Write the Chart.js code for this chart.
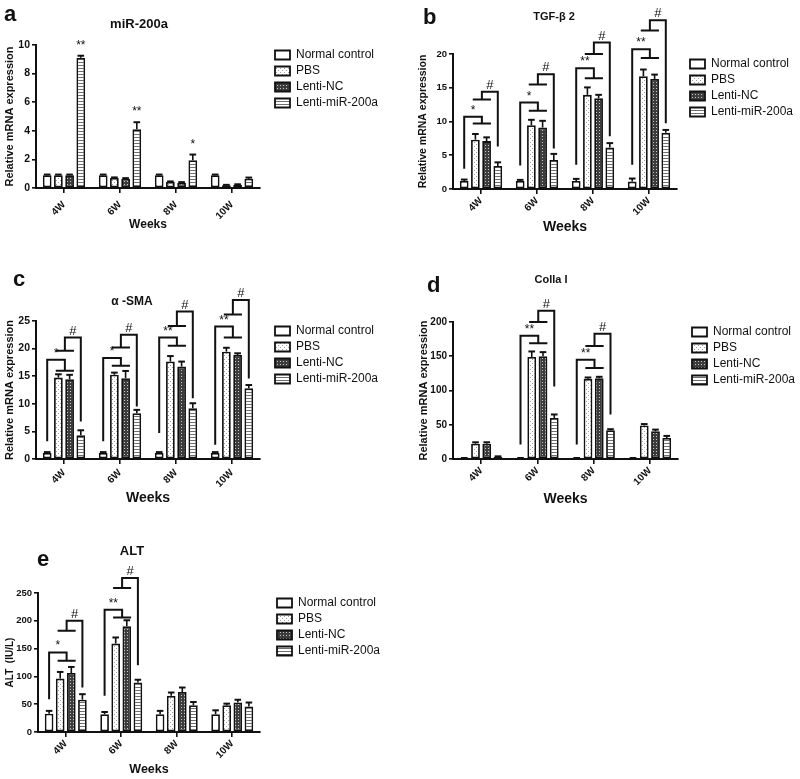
<!DOCTYPE html>
<html>
<head>
<meta charset="utf-8">
<script src="https://cdn.jsdelivr.net/npm/chart.js@4.4.1/dist/chart.umd.min.js"></script>
<style>
  body { margin: 0; background: #fff; overflow: hidden; }
  #fig { position: relative; width: 800px; height: 779px; font-family: "Liberation Sans", Arial, sans-serif; color: #111; }
  canvas { position: absolute; }
  .txt { position: absolute; font-weight: bold; line-height: 1; white-space: nowrap; }
  .mid { transform: translateX(-50%); }
</style>
</head>
<body>
<div id="fig">
  <canvas id="chartA" width="400" height="250" style="left:0;top:0"></canvas>
  <canvas id="chartB" width="400" height="250" style="left:400px;top:0"></canvas>
  <canvas id="chartC" width="400" height="260" style="left:0;top:255px"></canvas>
  <canvas id="chartD" width="400" height="260" style="left:400px;top:255px"></canvas>
  <canvas id="chartE" width="400" height="259" style="left:0;top:520px"></canvas>

  <div class="txt" style="left:4px;top:3px;font-size:22px">a</div>
  <div class="txt" style="left:423px;top:6px;font-size:22px">b</div>
  <div class="txt" style="left:13px;top:268px;font-size:22px">c</div>
  <div class="txt" style="left:427px;top:274px;font-size:22px">d</div>
  <div class="txt" style="left:37px;top:548px;font-size:22px">e</div>

  <div class="txt mid" style="left:139px;top:17px;font-size:13px">miR-200a</div>
  <div class="txt mid" style="left:554px;top:11px;font-size:11px">TGF-β 2</div>
  <div class="txt mid" style="left:132px;top:295px;font-size:12px">α -SMA</div>
  <div class="txt mid" style="left:551px;top:274px;font-size:11px">Colla I</div>
  <div class="txt mid" style="left:132px;top:544px;font-size:13px">ALT</div>
</div>

<script>
const weeks = ["4W", "6W", "8W", "10W"];
const groups = ["Normal control", "PBS", "Lenti-NC", "Lenti-miR-200a"];

// rows = groups, columns = weeks
const mirMean = [
    [0.9, 0.9, 0.9, 0.9],
    [0.9, 0.7, 0.42, 0.19],
    [0.9, 0.65, 0.37, 0.23],
    [9.1, 4.1, 1.94, 0.65]
];
const mirErr = [
    [0.04, 0.04, 0.04, 0.04],
    [0.04, 0.04, 0.04, 0.03],
    [0.04, 0.04, 0.04, 0.03],
    [0.15, 0.5, 0.4, 0.08]
];
const mirTicks = [0, 2, 4, 6, 8, 10];
const mirStars = [[0, 3, "**"], [1, 3, "**"], [2, 3, "*"]];

const tgfMean = [
    [1.2, 1.2, 1.2, 1.1],
    [7.3, 9.45, 13.95, 16.7],
    [7.1, 9.1, 13.45, 16.3],
    [3.4, 4.3, 6.15, 8.35]
];
const tgfErr = [
    [0.2, 0.15, 0.3, 0.45],
    [0.85, 0.8, 1.1, 1.0],
    [0.55, 1.0, 0.5, 0.65],
    [0.55, 0.9, 0.65, 0.4]
];
const tgfTicks = [0, 5, 10, 15, 20];
// [week, leg group, leg bottom, top line, pair line, label]
const tgfBrackets = [
    [0, 0, 3.0, 10.7, 9.7, "*"],
    [0, 3, 6.3, 14.4, 13.25, "#"],
    [1, 0, 3.5, 12.8, 11.6, "*"],
    [1, 3, 6.0, 17.0, 15.5, "#"],
    [2, 0, 3.6, 17.9, 16.4, "**"],
    [2, 3, 7.8, 21.7, 20.0, "#"],
    [3, 0, 3.6, 20.7, 19.4, "**"],
    [3, 3, 9.75, 25.0, 23.5, "#"]
];

const smaMean = [
    [1.1, 1.1, 1.1, 1.1],
    [14.75, 15.25, 17.65, 19.45],
    [14.45, 14.65, 16.75, 18.85],
    [4.3, 8.3, 9.2, 12.8]
];
const smaErr = [
    [0.15, 0.15, 0.15, 0.15],
    [0.6, 0.4, 1.0, 0.7],
    [0.8, 1.3, 0.9, 0.3],
    [0.9, 0.6, 0.9, 0.6]
];
const smaTicks = [0, 5, 10, 15, 20, 25];
const smaBrackets = [
    [0, 0, 3.2, 18.0, 16.0, "*"],
    [0, 3, 6.8, 22.0, 19.6, "#"],
    [1, 0, 3.2, 18.3, 16.9, "*"],
    [1, 3, 9.5, 22.5, 20.2, "#"],
    [2, 0, 4.7, 22.0, 20.5, "**"],
    [2, 3, 11.0, 26.7, 24.1, "#"],
    [3, 0, 2.6, 24.0, 22.0, "**"],
    [3, 3, 14.6, 28.8, 26.2, "#"]
];

const colMean = [
    [1, 1, 1, 1],
    [22.4, 149, 117, 49],
    [22.4, 150, 118, 40.4],
    [3.4, 60, 42, 30.7]
];
const colErr = [
    [0.5, 0.5, 0.5, 0.5],
    [2, 8, 2, 2],
    [2, 6, 2, 2.5],
    [0.5, 5, 1.5, 3]
];
const colTicks = [0, 50, 100, 150, 200];
const colBrackets = [
    [1, 0, 21, 180, 169, "**"],
    [1, 3, 106, 216.5, 200, "#"],
    [2, 0, 21, 145, 133, "**"],
    [2, 3, 65, 183, 165, "#"]
];

const altMean = [
    [33, 32, 32, 32],
    [96, 159, 65, 48],
    [106, 190, 72, 53],
    [58, 89, 48, 46]
];
const altErr = [
    [5, 4, 6, 7],
    [12, 11, 6, 3],
    [11, 11, 8, 5],
    [10, 5, 6, 7]
];
const altTicks = [0, 50, 100, 150, 200, 250];
const altBrackets = [
    [0, 0, 59, 143, 128, "*"],
    [0, 3, 80, 200, 182, "#"],
    [1, 0, 65, 220, 206, "**"],
    [1, 3, 120, 277, 259, "#"]
];

const FONT = '"Liberation Sans", Arial, sans-serif';
const INK = "#111";
Chart.defaults.font.family = FONT;
Chart.defaults.color = INK;

function pattern(w, h, draw) {
    const c = document.createElement("canvas");
    c.width = w;
    c.height = h;
    const g = c.getContext("2d");
    draw(g);
    return g.createPattern(c, "repeat");
}

const fills = [
    "#ffffff",
    pattern(4, 4, g => {
        g.fillStyle = "#fff"; g.fillRect(0, 0, 4, 4);
        g.fillStyle = "#a0a0a0"; g.fillRect(0, 0, 1, 1); g.fillRect(2, 2, 1, 1);
    }),
    pattern(3, 3, g => {
        g.fillStyle = "#3c3c3c"; g.fillRect(0, 0, 3, 3);
        g.fillStyle = "#c8c8c8"; g.fillRect(1, 1, 1, 1);
    }),
    pattern(2, 3, g => {
        g.fillStyle = "#fff"; g.fillRect(0, 0, 2, 3);
        g.fillStyle = "#6e6e6e"; g.fillRect(0, 2, 2, 1);
    })
];

function makeChart(id, p) {
    const marks = {
        id: "marks",
        afterDatasetsDraw(chart) {
            const ctx = chart.ctx;
            const y = chart.scales.y;
            ctx.save();
            ctx.strokeStyle = INK;
            ctx.fillStyle = INK;
            ctx.lineCap = "butt";

            // error bars, upper half only
            p.err.forEach((row, s) => {
                chart.getDatasetMeta(s).data.forEach((bar, i) => {
                    const top = y.getPixelForValue(p.mean[s][i] + row[i]);
                    const w = bar.width * 0.38;
                    ctx.lineWidth = 1.6;
                    ctx.beginPath();
                    ctx.moveTo(bar.x, bar.y);
                    ctx.lineTo(bar.x, top);
                    ctx.stroke();
                    ctx.lineWidth = 2;
                    ctx.beginPath();
                    ctx.moveTo(bar.x - w, top);
                    ctx.lineTo(bar.x + w, top);
                    ctx.stroke();
                });
            });

            ctx.textAlign = "center";
            ctx.textBaseline = "alphabetic";

            (p.stars || []).forEach(([i, s, label]) => {
                const bar = chart.getDatasetMeta(s).data[i];
                const top = y.getPixelForValue(p.mean[s][i] + p.err[s][i]);
                ctx.font = "12px " + FONT;
                ctx.fillText(label, bar.x, top - 7);
            });

            (p.brackets || []).forEach(([i, s, low, topV, pairV, label]) => {
                const leg = chart.getDatasetMeta(s).data[i];
                const pb = chart.getDatasetMeta(1).data[i];
                const nc = chart.getDatasetMeta(2).data[i];
                const pl = pb.x - pb.width * 0.3;
                const pr = nc.x + nc.width * 0.5;
                const pm = (pl + pr) / 2;
                const yl = y.getPixelForValue(low);
                const yt = y.getPixelForValue(topV);
                const yp = y.getPixelForValue(pairV);
                ctx.lineWidth = 2;
                ctx.beginPath();
                ctx.moveTo(leg.x, yl);
                ctx.lineTo(leg.x, yt);
                ctx.lineTo(pm, yt);
                ctx.lineTo(pm, yp);
                ctx.moveTo(pl, yp);
                ctx.lineTo(pr, yp);
                ctx.stroke();
                ctx.font = (label === "#" ? "13px " : "12px ") + FONT;
                ctx.fillText(label, (leg.x + pm) / 2, yt - 3);
            });
            ctx.restore();
        }
    };

    return new Chart(document.getElementById(id), {
        type: "bar",
        data: {
            labels: weeks,
            datasets: groups.map((g, s) => ({
                label: g,
                data: p.mean[s],
                xAxisID: "x",
                yAxisID: "y",
                backgroundColor: fills[s],
                borderColor: INK,
                borderWidth: 1.8,
                borderSkipped: false,
                categoryPercentage: 0.8,
                barPercentage: 0.78
            }))
        },
        options: {
            responsive: false,
            animation: false,
            layout: {
                padding: { left: 0, top: p.top, right: p.padRight, bottom: p.padBottom }
            },
            plugins: {
                tooltip: { enabled: false },
                legend: {
                    position: "right",
                    align: "start",
                    maxWidth: 110,
                    labels: {
                        boxWidth: 15,
                        boxHeight: 9,
                        padding: 4,
                        color: INK,
                        font: { size: 12 }
                    }
                }
            },
            scales: {
                x: {
                    grid: {
                        drawOnChartArea: false,
                        drawTicks: true,
                        tickLength: 5,
                        offset: false,
                        color: INK,
                        lineWidth: 1.6
                    },
                    border: { color: INK, width: 2 },
                    ticks: {
                        minRotation: 45,
                        maxRotation: 45,
                        padding: p.xTickPad,
                        color: INK,
                        font: { size: 10, weight: "bold" }
                    },
                    title: {
                        display: true,
                        text: "Weeks",
                        color: INK,
                        font: { size: p.weeksSize, weight: "bold" },
                        padding: { top: 0, bottom: p.weeksPad }
                    },
                    afterFit: s => { s.height = p.xh; }
                },
                y: {
                    min: p.ticks[0],
                    max: p.ticks[p.ticks.length - 1],
                    grid: {
                        drawOnChartArea: false,
                        drawTicks: true,
                        tickLength: 4,
                        color: INK,
                        lineWidth: 1.6
                    },
                    border: { color: INK, width: 2 },
                    ticks: {
                        stepSize: p.ticks[1] - p.ticks[0],
                        padding: 2,
                        color: INK,
                        font: { size: p.tickSize, weight: "bold" }
                    },
                    title: {
                        display: true,
                        text: p.yTitle,
                        color: INK,
                        font: { size: p.yTitleSize, weight: "bold" },
                        padding: { top: p.yTitlePad, bottom: 0 }
                    },
                    afterFit: s => { s.width = p.left; }
                },
                gap: {
                    type: "linear",
                    position: "right",
                    display: true,
                    ticks: { display: false },
                    grid: { display: false, drawTicks: false },
                    border: { display: false },
                    afterFit: s => { s.width = p.gap; }
                }
            }
        },
        plugins: [marks]
    });
}

const mrna = "Relative mRNA expression";

makeChart("chartA", {
    mean: mirMean, err: mirErr, ticks: mirTicks, stars: mirStars,
    yTitle: mrna, yTitleSize: 11, yTitlePad: 3, tickSize: 10.5,
    left: 36, top: 45, xh: 48, padBottom: 14, gap: 11, padRight: 19,
    weeksSize: 12, weeksPad: 4, xTickPad: 6
});

makeChart("chartB", {
    mean: tgfMean, err: tgfErr, ticks: tgfTicks, brackets: tgfBrackets,
    yTitle: mrna, yTitleSize: 10.5, yTitlePad: 17, tickSize: 9.5,
    left: 53, top: 54, xh: 51, padBottom: 10, gap: 9, padRight: 4,
    weeksSize: 14, weeksPad: 4, xTickPad: 1
});

makeChart("chartC", {
    mean: smaMean, err: smaErr, ticks: smaTicks, brackets: smaBrackets,
    yTitle: mrna, yTitleSize: 11, yTitlePad: 3, tickSize: 10.5,
    left: 36, top: 66, xh: 52, padBottom: 4, gap: 11, padRight: 19,
    weeksSize: 14, weeksPad: 4, xTickPad: 3
});

makeChart("chartD", {
    mean: colMean, err: colErr, ticks: colTicks, brackets: colBrackets,
    yTitle: mrna, yTitleSize: 11, yTitlePad: 17, tickSize: 10,
    left: 53, top: 67, xh: 53, padBottom: 3, gap: 10, padRight: 2,
    weeksSize: 14, weeksPad: 4, xTickPad: 1
});

makeChart("chartE", {
    mean: altMean, err: altErr, ticks: altTicks, brackets: altBrackets,
    yTitle: "ALT  (IU/L)", yTitleSize: 10, yTitlePad: 4, tickSize: 9.5,
    left: 38, top: 73, xh: 47, padBottom: 0, gap: 13, padRight: 17,
    weeksSize: 12.5, weeksPad: 1.5, xTickPad: 1
});
</script>
</body>
</html>
